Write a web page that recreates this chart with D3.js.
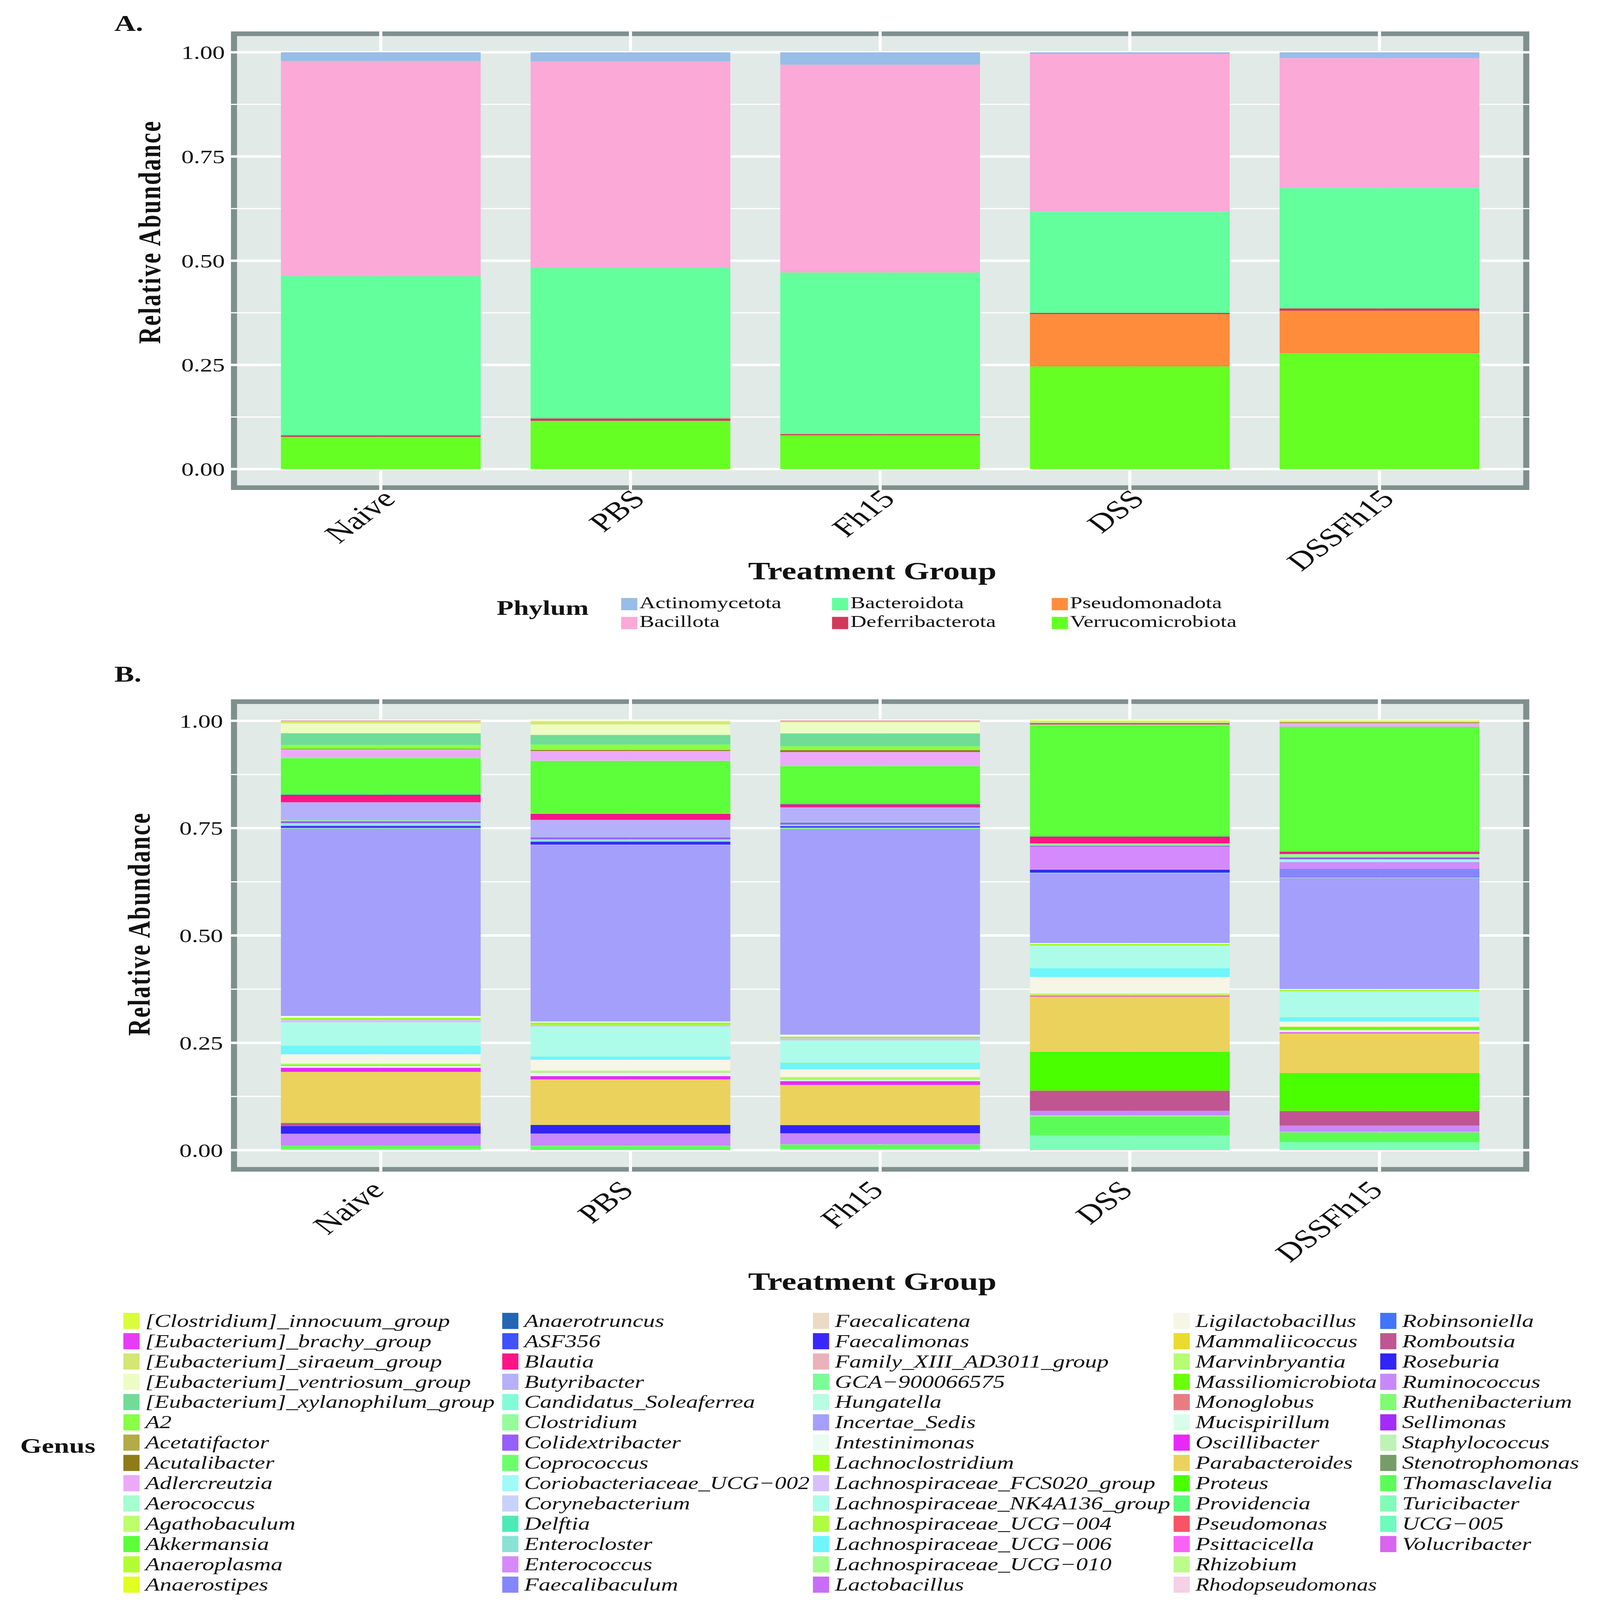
<!DOCTYPE html>
<html>
<head>
<meta charset="utf-8">
<script src="https://cdn.jsdelivr.net/npm/d3@7"></script>
<style>
html, body { margin: 0; padding: 0; background: #ffffff; width: 100%; height: 100%; overflow: hidden; }
svg { display: block; width: 100vw; height: 100vh; }
</style>
</head>
<body>
<svg id="chart"></svg>
<script>
// ---------------- DATA ----------------
const groups = ["Naive", "PBS", "Fh15", "DSS", "DSSFh15"];
const yTicks = [0, 0.25, 0.5, 0.75, 1];
const yTickLabels = ["0.00", "0.25", "0.50", "0.75", "1.00"];

// Panel A: phylum relative abundance (per phylum, across groups)
const phyla = ["Actinomycetota", "Bacillota", "Bacteroidota", "Deferribacterota", "Pseudomonadota", "Verrucomicrobiota"];
const phylumColors = ["#98BDE6", "#FBA9D7", "#63FF9D", "#D03A5A", "#FF8C3B", "#66FF24"];
const actinomycetota    = [0.0208, 0.0218, 0.0297, 0.0040, 0.0138];
const bacillota         = [0.5163, 0.4955, 0.4985, 0.3788, 0.3116];
const bacteroidota      = [0.3818, 0.3610, 0.3877, 0.2423, 0.2888];
const deferribacterota  = [0.0040, 0.0059, 0.0030, 0.0030, 0.0059];
const pseudomonadota    = [0.0000, 0.0000, 0.0000, 0.1256, 0.1019];
const verrucomicrobiota = [0.0772, 0.1157, 0.0811, 0.2463, 0.2779];
const phylumValues = [actinomycetota, bacillota, bacteroidota, deferribacterota, pseudomonadota, verrucomicrobiota];

// Panel B: genus names and colours (legend order; first level is stacked on top)
const genera = [
  "[Clostridium]_innocuum_group", "[Eubacterium]_brachy_group", "[Eubacterium]_siraeum_group",
  "[Eubacterium]_ventriosum_group", "[Eubacterium]_xylanophilum_group", "A2", "Acetatifactor",
  "Acutalibacter", "Adlercreutzia", "Aerococcus", "Agathobaculum", "Akkermansia", "Anaeroplasma",
  "Anaerostipes", "Anaerotruncus", "ASF356", "Blautia", "Butyribacter", "Candidatus_Soleaferrea",
  "Clostridium", "Colidextribacter", "Coprococcus", "Coriobacteriaceae_UCG\u2212002", "Corynebacterium",
  "Delftia", "Enterocloster", "Enterococcus", "Faecalibaculum", "Faecalicatena", "Faecalimonas",
  "Family_XIII_AD3011_group", "GCA\u2212900066575", "Hungatella", "Incertae_Sedis", "Intestinimonas",
  "Lachnoclostridium", "Lachnospiraceae_FCS020_group", "Lachnospiraceae_NK4A136_group",
  "Lachnospiraceae_UCG\u2212004", "Lachnospiraceae_UCG\u2212006", "Lachnospiraceae_UCG\u2212010",
  "Lactobacillus", "Ligilactobacillus", "Mammaliicoccus", "Marvinbryantia", "Massiliomicrobiota",
  "Monoglobus", "Mucispirillum", "Oscillibacter", "Parabacteroides", "Proteus", "Providencia",
  "Pseudomonas", "Psittacicella", "Rhizobium", "Rhodopseudomonas", "Robinsoniella", "Romboutsia",
  "Roseburia", "Ruminococcus", "Ruthenibacterium", "Sellimonas", "Staphylococcus", "Stenotrophomonas",
  "Thomasclavelia", "Turicibacter", "UCG\u2212005", "Volucribacter"
];
const genusColors = [
  "#DAFB3E", "#E63CF5", "#D4E673", "#EDFCC2", "#70DC98", "#88FF44", "#B3AA48",
  "#8F7B18", "#ECA9F9", "#A6FDD0", "#BDFE6C", "#5CFF3A", "#B4FC32",
  "#E2FE20", "#2466B6", "#3F51FA", "#FF1485", "#B6B0FB", "#82FCD8",
  "#96FC9A", "#965EFB", "#6CFF6C", "#A0FAF8", "#C8D1FC",
  "#4EEAB6", "#89E2D3", "#D48AFC", "#8487FC", "#EBDBC4", "#3A28FA",
  "#EBB1BB", "#7AFC96", "#B8FCE3", "#A59FFC", "#E9FCF4",
  "#97FF0A", "#D8BFFC", "#ADFCEA",
  "#B0FC40", "#6EF6FA", "#A4FC8C",
  "#C86DF5", "#F5F6E6", "#EBDB2E", "#B6FC74", "#6AFF0A",
  "#E77C84", "#DAFDEA", "#E928F8", "#EBD25C", "#4AFF00", "#58FC78",
  "#F85466", "#FA62F5", "#BCFC8A", "#F5D0E6", "#4274FA", "#C05592",
  "#3124F6", "#C888FC", "#7EFC72", "#A22CFA", "#BEF2B6", "#769C67",
  "#5CFC58", "#80FCB6", "#6DFCBC", "#D865F0"
];

// Genus relative abundance per group, in the same order as `genera`
const naiveGenus = [
  0.0006, 0.0011, 0.0056, 0.0229, 0.0273, 0.0089, 0, 0.0011, 0.0199, 0.0006, 0, 0.0844, 0, 0.0006,
  0.0017, 0, 0.0162, 0.0418, 0, 0.0022, 0.0050, 0, 0.0022, 0, 0, 0.0033, 0.0006, 0,
  0, 0.0045, 0, 0.0017, 0, 0.4365, 0.0045, 0.0045, 0.0056, 0.0546, 0, 0.0201, 0, 0,
  0.0212, 0, 0.0033, 0.0017, 0.0006, 0.0045, 0.0095, 0.1185, 0, 0.0007, 0, 0, 0, 0,
  0, 0.0072, 0.0178, 0.0279, 0.0009, 0, 0, 0, 0.0069, 0.0019, 0, 0.0006
];
const pbsGenus = [
  0.0022, 0, 0.0061, 0.0245, 0.0223, 0.0128, 0, 0.0022, 0.0227, 0.0006, 0, 0.1211, 0, 0.0015,
  0.0011, 0, 0.0136, 0.0407, 0, 0, 0.0045, 0, 0, 0, 0, 0.0048, 0.0007, 0,
  0, 0.0072, 0.0006, 0.0007, 0, 0.4104, 0.0028, 0.0050, 0.0039, 0.0697, 0, 0.0078, 0, 0,
  0.0251, 0, 0.0045, 0, 0.0006, 0.0078, 0.0078, 0.1059, 0, 0, 0, 0, 0, 0,
  0, 0, 0.0201, 0.0284, 0.0013, 0, 0, 0, 0.0084, 0, 0, 0.0006
];
const fh15Genus = [
  0.0006, 0.0011, 0.0028, 0.0256, 0.0301, 0.0089, 0, 0.0045, 0.0321, 0.0006, 0, 0.0883, 0, 0,
  0.0011, 0, 0.0067, 0.0340, 0, 0.0011, 0.0050, 0, 0, 0, 0, 0.0039, 0, 0,
  0, 0.0033, 0, 0.0028, 0, 0.4794, 0.0045, 0.0039, 0.0050, 0.0513, 0.0006, 0.0156, 0, 0,
  0.0178, 0.0011, 0.0028, 0.0017, 0, 0.0039, 0.0089, 0.0931, 0, 0, 0, 0, 0, 0,
  0, 0.0006, 0.0190, 0.0256, 0.0009, 0, 0, 0, 0.0102, 0.0019, 0, 0.0006
];
const dssGenus = [
  0.0028, 0, 0.0028, 0, 0.0006, 0, 0, 0.0033, 0.0022, 0, 0, 0.2585, 0, 0,
  0.0006, 0, 0.0158, 0, 0, 0.0050, 0.0022, 0, 0, 0, 0, 0, 0.0530, 0,
  0.0006, 0.0072, 0, 0.0011, 0, 0.1628, 0.0022, 0.0033, 0.0006, 0.0524, 0, 0.0206, 0, 0,
  0.0385, 0.0022, 0, 0.0006, 0, 0.0017, 0.0022, 0.1288, 0.0901, 0.0006, 0.0009, 0, 0, 0,
  0, 0.0461, 0, 0.0106, 0.0011, 0, 0.0013, 0, 0.0444, 0.0336, 0, 0.0006
];
const dssFh15Genus = [
  0.0033, 0, 0.0011, 0, 0, 0, 0, 0.0017, 0.0084, 0, 0, 0.2910, 0, 0,
  0.0006, 0, 0.0050, 0, 0, 0.0078, 0.0045, 0, 0.0056, 0, 0, 0.0011, 0.0150, 0.0190,
  0, 0.0011, 0, 0.0017, 0, 0.2586, 0.0022, 0.0028, 0.0006, 0.0602, 0, 0.0100, 0, 0,
  0.0117, 0.0011, 0, 0.0067, 0, 0.0056, 0.0022, 0.0925, 0.0881, 0, 0.0011, 0, 0, 0,
  0, 0.0334, 0, 0.0145, 0, 0, 0.0011, 0.0006, 0.0223, 0.0180, 0, 0.0006
];
const genusValues = [naiveGenus, pbsGenus, fh15Genus, dssGenus, dssFh15Genus];

// ---------------- DRAWING ----------------
// Layout units: the reference picture scaled to 1188 units wide.
const W = 1188, H = 6684 * 1188 / 5072;
const FONT = "'Liberation Serif', 'Times New Roman', serif";

const svg = d3.select("#chart")
  .attr("viewBox", `0 0 ${W} ${H}`)
  .attr("preserveAspectRatio", "none")
  .style("font-family", FONT);
svg.append("rect").attr("width", W).attr("height", H).attr("fill", "#ffffff");

const PX0 = 171.5, PX1 = 1135.5;
const x = d3.scaleBand().domain(groups).range([PX0, PX1]).paddingInner(0.2).paddingOuter(0.2);

function rowsByKey(keys, perKeyArrays) {
  return groups.map((g, gi) => {
    const row = { group: g };
    keys.forEach((k, ki) => { row[k] = perKeyArrays[ki][gi]; });
    return row;
  });
}
function rowsByGroup(keys, perGroupArrays) {
  return groups.map((g, gi) => {
    const row = { group: g };
    keys.forEach((k, ki) => { row[k] = perGroupArrays[gi][ki]; });
    return row;
  });
}

function drawPanel(opts) {
  const { top, bottom, keys, colors, rows, tag, tagY, tickRight, titleX, titleY, labelDX, labelY, xTitleY } = opts;
  const y = d3.scaleLinear().domain([-0.05, 1.05]).range([bottom, top]);
  const g = svg.append("g");

  g.append("rect").attr("x", PX0).attr("y", top).attr("width", PX1 - PX0).attr("height", bottom - top)
    .attr("fill", "#E1EAE7");
  g.append("rect").attr("x", PX0 + 2.25).attr("y", top + 2.25)
    .attr("width", PX1 - PX0 - 4.5).attr("height", bottom - top - 4.5)
    .attr("fill", "none").attr("stroke", "#7F8F8C").attr("stroke-width", 4.5);

  const minor = [0.125, 0.375, 0.625, 0.875];
  g.selectAll(".minor").data(minor).join("line")
    .attr("x1", PX0).attr("x2", PX1).attr("y1", d => y(d)).attr("y2", d => y(d))
    .attr("stroke", "#ffffff").attr("stroke-width", 1.17);
  g.selectAll(".major").data(yTicks).join("line")
    .attr("x1", PX0).attr("x2", PX1).attr("y1", d => y(d)).attr("y2", d => y(d))
    .attr("stroke", "#ffffff").attr("stroke-width", 2.34);
  g.selectAll(".vgrid").data(groups).join("line")
    .attr("x1", d => x(d) + x.bandwidth() / 2).attr("x2", d => x(d) + x.bandwidth() / 2)
    .attr("y1", top).attr("y2", bottom)
    .attr("stroke", "#ffffff").attr("stroke-width", 2.34);

  const stackKeys = keys.slice().reverse();
  const series = d3.stack().keys(stackKeys)(rows);
  const color = d3.scaleOrdinal().domain(keys).range(colors);
  g.selectAll(".layer").data(series).join("g")
    .attr("fill", s => color(s.key))
    .selectAll("rect").data(s => s.filter(d => d[1] - d[0] > 0)).join("rect")
    .attr("x", d => x(d.data.group)).attr("width", x.bandwidth())
    .attr("y", d => y(d[1])).attr("height", d => y(d[0]) - y(d[1]));

  g.selectAll(".ytl").data(yTicks).join("text")
    .attr("x", tickRight).attr("y", d => y(d) + 6.6)
    .attr("text-anchor", "end").attr("font-size", 18.5).attr("fill", "#111")
    .text((d, i) => yTickLabels[i]);

  g.selectAll(".xtl").data(groups).join("text")
    .attr("transform", d => `translate(${x(d) + x.bandwidth() / 2 + labelDX},${labelY}) rotate(-45)`)
    .attr("text-anchor", "end").attr("font-size", 25.5)
    .attr("fill", "#111").text(d => d);

  g.append("text").attr("transform", `translate(${titleX},${titleY}) rotate(-90)`)
    .attr("text-anchor", "middle").attr("font-size", 23).attr("font-weight", "bold")
    .attr("letter-spacing", 1.2).attr("fill", "#111").text("Relative Abundance");
  g.append("text").attr("x", 647.7).attr("y", xTitleY)
    .attr("text-anchor", "middle").attr("font-size", 24.5).attr("font-weight", "bold")
    .attr("fill", "#111").text("Treatment Group");

  g.append("text").attr("x", 84.9).attr("y", tagY).attr("font-size", 22).attr("font-weight", "bold")
    .attr("fill", "#111").text(tag);
}

drawPanel({
  top: 30.8, bottom: 479.4, keys: phyla, colors: phylumColors,
  rows: rowsByKey(phyla, phylumValues), tag: "A.", tagY: 30.3, tickRight: 167,
  titleX: 119, titleY: 227, labelDX: 12, labelY: 489.6, xTitleY: 566.7
});
drawPanel({
  top: 684.3, bottom: 1146.4, keys: genera, colors: genusColors,
  rows: rowsByGroup(genera, genusValues), tag: "B.", tagY: 666.9, tickRight: 165.6,
  titleX: 111, titleY: 904, labelDX: 3.5, labelY: 1166, xTitleY: 1262
});

// ---------------- LEGENDS ----------------
const lgA = svg.append("g");
lgA.append("text").attr("x", 368.8).attr("y", 601.8).attr("font-size", 20.5).attr("font-weight", "bold")
  .attr("fill", "#111").text("Phylum");
const phyColX = [461.2, 617.8, 780.9];
const phyRowY = [585.1, 603.6];
const phyItems = lgA.selectAll(".pi").data(phyla).join("g")
  .attr("transform", (d, i) => `translate(${phyColX[Math.floor(i / 2)]},${phyRowY[i % 2]})`);
phyItems.append("rect").attr("width", 12).attr("height", 12).attr("fill", (d, i) => phylumColors[i]);
phyItems.append("text").attr("x", 13.6).attr("y", 10).attr("font-size", 16.5).attr("fill", "#111").text(d => d);

const lgB = svg.append("g");
lgB.append("text").attr("x", 15).attr("y", 1421.5).attr("font-size", 20.5).attr("font-weight", "bold")
  .attr("fill", "#111").text("Genus");
const genColX = [91.6, 372.9, 603.6, 871.4, 1024.8];
const TEXT_DX = 16.3;
const genItems = lgB.selectAll(".gi").data(genera).join("g")
  .attr("transform", (d, i) => `translate(${genColX[Math.floor(i / 14)]},${1284.6 + (i % 14) * 19.85})`);
genItems.append("rect").attr("width", 12).attr("height", 15.8).attr("fill", (d, i) => genusColors[i]);
genItems.append("text").attr("x", TEXT_DX).attr("y", 13.7).attr("font-size", 17.6).attr("font-style", "italic")
  .attr("fill", "#111").text(d => d)
  .each(function(d, i) {
    const c = Math.floor(i / 14);
    const limit = (c < genColX.length - 1 ? genColX[c + 1] - 2.5 : W - 4) - (genColX[c] + TEXT_DX);
    const len = this.getComputedTextLength();
    if (len > limit) {
      d3.select(this).attr("textLength", limit).attr("lengthAdjust", "spacingAndGlyphs");
    }
  });
</script>
</body>
</html>
